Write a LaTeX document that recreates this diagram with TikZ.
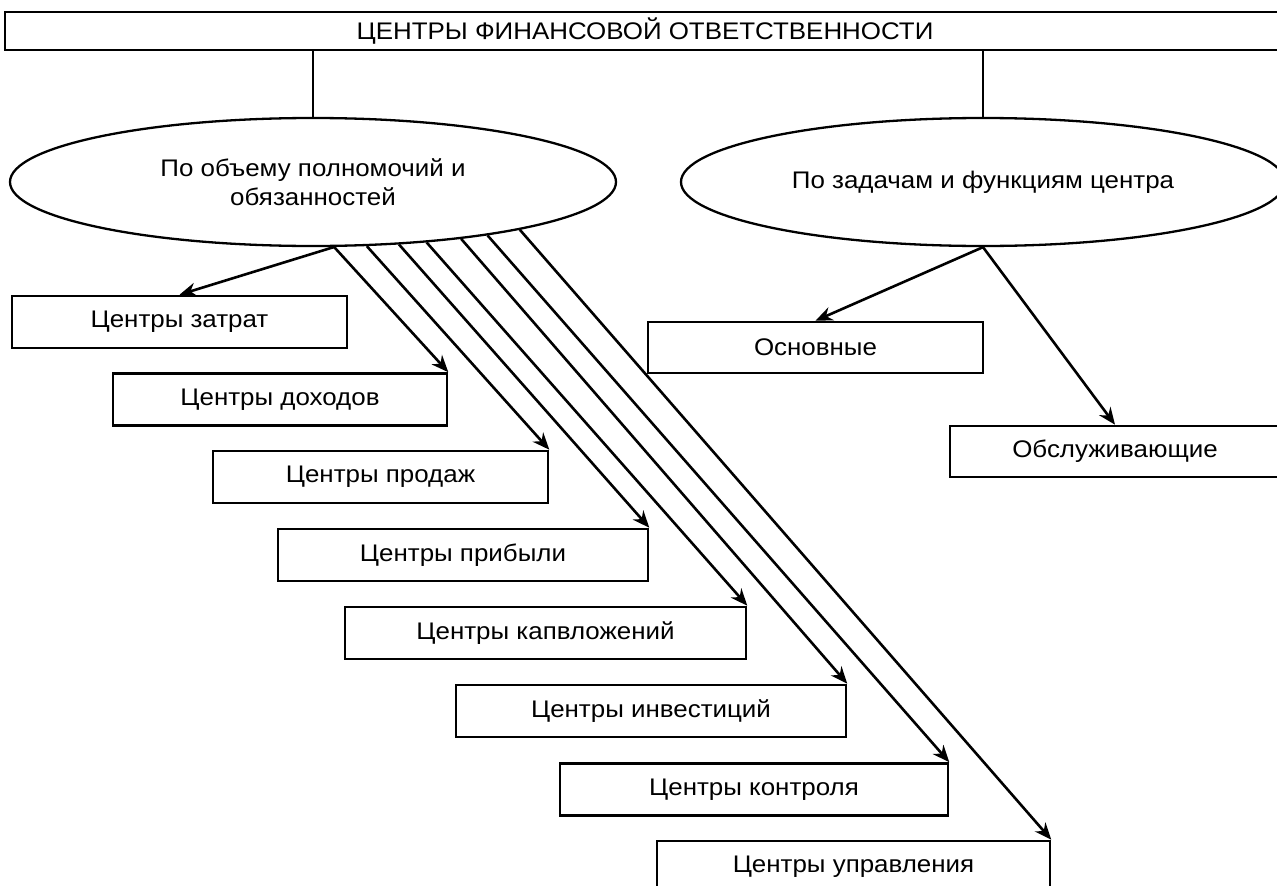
\documentclass[tikz,border=0pt]{standalone}
\usepackage{fontspec}
\setmainfont{Liberation Sans}[FakeStretch=1.08]
\usetikzlibrary{shapes.geometric,arrows.meta}
\begin{document}
\begin{tikzpicture}[x=1pt,y=-1pt,
  font=\fontsize{24}{29}\selectfont,
  box/.style={draw, line width=2.6pt, rectangle, minimum height=52pt, inner sep=0pt},
  oval/.style={draw, line width=2.3pt, ellipse, minimum width=606pt, minimum height=128pt,
               inner sep=0pt, align=center},
  link/.style={line width=2.6pt},
  arrow/.style={line width=2.6pt, -{Stealth[length=17pt,width=14pt]}}]
\useasboundingbox (0,0) rectangle (1277,886);
\clip (0,0) rectangle (1277,886);
\fill[white] (0,0) rectangle (1277,886);

% title bar
\node[box, minimum width=1280pt, minimum height=38pt] (top) at (645,31)
  {ЦЕНТРЫ ФИНАНСОВОЙ ОТВЕТСТВЕННОСТИ};

% the two classification criteria
\node[oval] (L) at (313,182) {По объему полномочий и\\обязанностей};
\node[oval, minimum width=604pt] (R) at (983,182) {По задачам и функциям центра};

% centres by scope of authority
\node[box, minimum width=335pt] (c1) at (179.5,322) {Центры затрат};
\node[box, minimum width=334pt] (c2) at (280,399.5) {Центры доходов};
\node[box, minimum width=335pt] (c3) at (380.5,477) {Центры продаж};
\node[box, minimum width=370pt] (c4) at (463,555) {Центры прибыли};
\node[box, minimum width=401pt] (c5) at (545.5,633) {Центры капвложений};
\node[box, minimum width=390pt] (c6) at (651,711) {Центры инвестиций};
\node[box, minimum width=388pt] (c7) at (754,789.5) {Центры контроля};
\node[box, minimum width=393pt] (c8) at (853.5,867) {Центры управления};

% centres by tasks and functions
\node[box, minimum width=335pt, minimum height=51pt] (o1) at (815.5,347.5) {Основные};
\node[box, minimum width=330pt, minimum height=51pt] (o2) at (1115,451.5) {Обслуживающие};

% connections
\draw[link] (top.south -| L.north) -- (L.north);
\draw[link] (top.south -| R.north) -- (R.north);

\draw[arrow] (L.-72.6) -- (c1.north);
\draw[arrow] (L.-72.6) -- (c2.north east);
\draw[arrow] (L.-50.5) -- (c3.north east);
\draw[arrow] (L.-36.9) -- (c4.north east);
\draw[arrow] (L.-28.0) -- (c5.north east);
\draw[arrow] (L.-21.7) -- (c6.north east);
\draw[arrow] (L.-17.0) -- (c7.north east);
\draw[arrow] (L.-13.6) -- (c8.north east);

\draw[arrow] (R.south) -- (o1.north);
\draw[arrow] (R.south) -- (o2.north);
\end{tikzpicture}
\end{document}
